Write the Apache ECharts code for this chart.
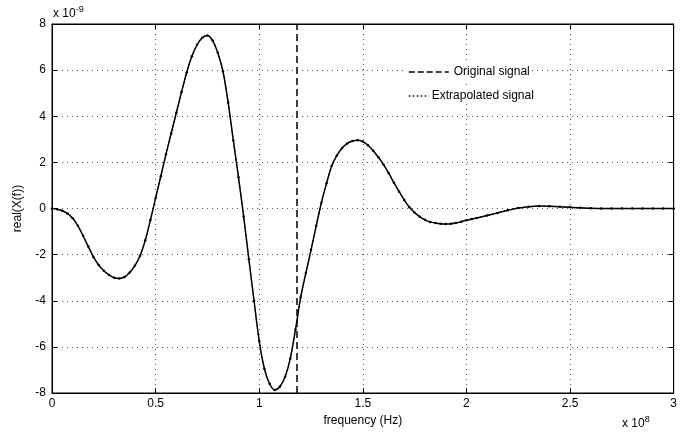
<!DOCTYPE html>
<html>
<head>
    <meta charset="utf-8">
    <title>real(X(f))</title>
    <script src="https://cdn.jsdelivr.net/npm/echarts/dist/echarts.min.js"></script>
    <style>
        body { margin: 0; background: #fff; }
    </style>
</head>
<body>
    <div id="main" style="width: 680px; height: 432px;"></div>
    <script>
        // frequency in units of 1e8 Hz, value in units of 1e-9
        var freq = [
            0, 0.025, 0.05, 0.075, 0.1, 0.125, 0.15, 0.175, 0.2, 0.225,
            0.25, 0.275, 0.3, 0.325, 0.35, 0.375, 0.4, 0.425, 0.45, 0.475,
            0.5, 0.525, 0.55, 0.575, 0.6, 0.625, 0.65, 0.675, 0.7, 0.725,
            0.75, 0.775, 0.8, 0.825, 0.85, 0.875, 0.9, 0.925, 0.95, 0.975,
            1.0, 1.025, 1.05, 1.075, 1.1, 1.125, 1.15, 1.175, 1.2, 1.225,
            1.25, 1.275, 1.3, 1.325, 1.35, 1.375, 1.4, 1.425, 1.45, 1.475,
            1.5, 1.525, 1.55, 1.575, 1.6, 1.625, 1.65, 1.675, 1.7, 1.725,
            1.75, 1.775, 1.8, 1.825, 1.85, 1.875, 1.9, 1.925, 1.95, 1.975,
            2.0, 2.025, 2.05, 2.1, 2.15, 2.2, 2.25, 2.3, 2.35, 2.4, 2.45,
            2.5, 2.55, 2.6, 2.65, 2.7, 2.75, 2.8, 2.85, 2.9, 2.95, 3.0
        ];
        var realX = [
            0, -0.03, -0.1, -0.22, -0.42, -0.75, -1.18, -1.65, -2.1, -2.45,
            -2.7, -2.88, -3.0, -3.03, -2.97, -2.78, -2.48, -2.05, -1.38, -0.5,
            0.45, 1.4, 2.35, 3.25, 4.15, 5.05, 5.9, 6.6, 7.1, 7.4,
            7.5, 7.28, 6.75, 5.95, 4.6, 2.95, 1.35, -0.35, -2.2, -4.0,
            -5.75, -6.95, -7.6, -7.87, -7.72, -7.3, -6.5, -5.25, -3.85, -2.8,
            -1.8, -0.75, 0.25, 1.1, 1.85, 2.3, 2.62, 2.82, 2.93, 2.96,
            2.9, 2.74, 2.5, 2.22, 1.9, 1.53, 1.12, 0.73, 0.37, 0.05,
            -0.18, -0.36, -0.49, -0.58, -0.63, -0.66, -0.67, -0.66, -0.63, -0.57,
            -0.51, -0.46, -0.41, -0.3, -0.19, -0.08, 0.02, 0.08, 0.11, 0.1, 0.08,
            0.05, 0.03, 0.01, 0, 0, 0, 0, 0, 0, 0, 0
        ];
        var xTicks = [0, 0.5, 1, 1.5, 2, 2.5, 3];
        var yTicks = [-8, -6, -4, -2, 0, 2, 4, 6, 8];
        var cutoff = 1.175;

        var seriesData = freq.map(function (f, i) { return [f, realX[i]]; });

        var chart = echarts.init(document.getElementById('main'));
        var font = 'Liberation Sans, Arial, sans-serif';
        var hidden = { color: 'rgba(0,0,0,0)', borderColor: 'rgba(0,0,0,0)', borderWidth: 0 };
        var dotted = { color: '#555', type: [1, 4], width: 1 };

        var option = {
            animation: false,
            backgroundColor: '#fff',
            textStyle: { fontFamily: font },
            grid: {
                left: 52, right: 2, top: 24, bottom: 39,
                show: true, borderColor: '#000', borderWidth: 1
            },
            legend: [
                {
                    data: [{ name: 'Original signal', lineStyle: { type: [6, 3], width: 1.5, color: '#000' }, itemStyle: hidden }],
                    left: 406, top: 64, itemWidth: 40, itemHeight: 10,
                    textStyle: { color: '#000', fontSize: 12, fontFamily: font },
                    backgroundColor: '#fff', padding: 2
                },
                {
                    data: [{ name: 'Extrapolated signal', lineStyle: { type: [1.5, 2.5], width: 1.5, color: '#000' }, itemStyle: hidden }],
                    left: 406, top: 88, itemWidth: 18, itemHeight: 10,
                    textStyle: { color: '#000', fontSize: 12, fontFamily: font },
                    backgroundColor: '#fff', padding: 2
                }
            ],
            xAxis: [
                {
                    type: 'value',
                    min: 0, max: 3, interval: 0.5,
                    name: 'frequency (Hz)',
                    nameLocation: 'middle', nameGap: 20,
                    nameTextStyle: { color: '#000', fontSize: 12, fontFamily: font },
                    axisLine: { onZero: false, lineStyle: { color: '#000' } },
                    axisTick: { inside: true, length: 5, lineStyle: { color: '#000' } },
                    axisLabel: {
                        color: '#000', fontSize: 12, margin: 5,
                        formatter: function (v) { return xTicks.indexOf(v) >= 0 ? String(v) : ''; }
                    },
                    splitLine: { show: true, lineStyle: dotted }
                },
                {
                    type: 'value', position: 'top',
                    min: 0, max: 3, interval: 0.5,
                    axisLine: { onZero: false, lineStyle: { color: '#000' } },
                    axisTick: { inside: true, length: 5, lineStyle: { color: '#000' } },
                    axisLabel: { show: false },
                    splitLine: { show: false }
                }
            ],
            yAxis: [
                {
                    type: 'value',
                    min: -8, max: 8, interval: 2,
                    name: 'real(X(f))',
                    nameLocation: 'middle', nameGap: 28,
                    nameTextStyle: { color: '#000', fontSize: 12, fontFamily: font },
                    axisLine: { onZero: false, lineStyle: { color: '#000' } },
                    axisTick: { inside: true, length: 5, lineStyle: { color: '#000' } },
                    axisLabel: {
                        color: '#000', fontSize: 12, margin: 6,
                        formatter: function (v) { return yTicks.indexOf(v) >= 0 ? String(v) : ''; }
                    },
                    splitLine: { show: true, lineStyle: dotted }
                },
                {
                    type: 'value', position: 'right',
                    min: -8, max: 8, interval: 2,
                    axisLine: { onZero: false, lineStyle: { color: '#000' } },
                    axisTick: { inside: true, length: 5, lineStyle: { color: '#000' } },
                    axisLabel: { show: false },
                    splitLine: { show: false }
                }
            ],
            series: [
                {
                    name: 'Original signal',
                    type: 'line',
                    data: seriesData,
                    symbol: 'none',
                    smooth: 0.3,
                    lineStyle: { color: '#000', width: 1.5 },
                    itemStyle: { color: '#000' },
                    markLine: {
                        silent: true,
                        symbol: 'none',
                        label: { show: false },
                        lineStyle: { color: '#000', type: [7, 4], width: 1.5 },
                        data: [{ xAxis: cutoff }]
                    },
                    z: 3
                },
                {
                    name: 'Extrapolated signal',
                    type: 'line',
                    data: seriesData,
                    symbol: 'circle',
                    symbolSize: 2.5,
                    smooth: 0.3,
                    lineStyle: { color: '#000', width: 1, type: [1.5, 2.5] },
                    itemStyle: { color: '#000' },
                    z: 4
                }
            ],
            graphic: [
                {
                    type: 'text', left: 53, top: 5,
                    style: {
                        text: 'x 10{sup|-9}',
                        fill: '#000', font: '12px ' + font,
                        rich: { sup: { fontSize: 9, verticalAlign: 'top', padding: [0, 0, 8, 0] } }
                    }
                },
                {
                    type: 'text', left: 622, top: 415,
                    style: {
                        text: 'x 10{sup|8}',
                        fill: '#000', font: '12px ' + font,
                        rich: { sup: { fontSize: 9, verticalAlign: 'top', padding: [0, 0, 8, 0] } }
                    }
                }
            ]
        };

        chart.setOption(option);
    </script>
</body>
</html>
